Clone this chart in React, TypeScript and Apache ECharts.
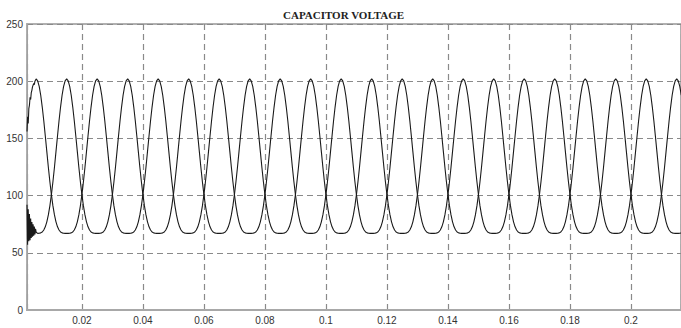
import React, { useEffect, useRef } from 'react';
import * as echarts from 'echarts';

const chartTitle = 'CAPACITOR VOLTAGE';
const xMin = 0.002;
const xMax = 0.2164;
const xTickStep = 0.02;
const yMin = 0;
const yMax = 250;
const yTickStep = 50;

const period = 0.02;
const sampleStep = 0.0005;
// one half-cycle of the capacitor voltage, peak -> trough, read at 0.0005 s steps
const halfCycle = [202, 200.3, 195.5, 187.7, 177.4, 165.4, 152.1, 138.4, 124.8, 112.1, 100.8, 91.0, 83.1, 77.1, 72.7, 69.9, 68.2, 67.4, 67.1, 67.0, 67.0];
const peakTimeA = 0.015;
const peakTimeB = 0.005;
// start-up transients, read at 0.0002 s steps from t = 0.002
const startStep = 0.0002;
const startA = [92, 57, 88, 60, 84, 61, 80, 63, 77, 64, 75, 65, 73, 66, 71, 68];
const startB = [156, 169, 163, 176, 179, 186, 184, 190, 192, 195, 195, 198, 197, 200];
const regularFromA = 0.0055;
const regularFromB = 0.005;

function buildSeries(start: number[], peakT: number, regularFrom: number) {
  const pts: [number, number][] = [];
  start.forEach((v, i) => pts.push([+(xMin + i * startStep).toFixed(5), v]));
  const perCycle = Math.round(period / sampleStep);
  const half = perCycle / 2;
  const n0 = Math.round(regularFrom / sampleStep);
  const n1 = Math.ceil(xMax / sampleStep);
  for (let n = n0; n <= n1; n++) {
    const t = n * sampleStep;
    const ph = (((t - peakT) % period) + period) % period;
    const i = Math.round(ph / sampleStep) % perCycle;
    const v = i <= half ? halfCycle[i] : halfCycle[perCycle - i];
    pts.push([+t.toFixed(5), v]);
  }
  return pts;
}

const seriesA = buildSeries(startA, peakTimeA, regularFromA);
const seriesB = buildSeries(startB, peakTimeB, regularFromB);

export default function App() {
  const ref = useRef<HTMLDivElement>(null);
  useEffect(() => {
    if (!ref.current) return;
    const chart = echarts.init(ref.current, undefined, { renderer: 'svg' });
    const isMultiple = (v: number) => Math.abs(v / xTickStep - Math.round(v / xTickStep)) < 1e-6 && v > 0;
    chart.setOption({
      animation: false,
      backgroundColor: '#fff',
      title: {
        text: chartTitle,
        left: 283,
        top: 9,
        padding: 0,
        textStyle: { fontFamily: 'Liberation Serif', fontWeight: 'bold', fontSize: 11, color: '#222' },
      },
      grid: {
        left: 27,
        right: -2,
        top: 24,
        bottom: 18,
        show: true,
        borderColor: '#b0b0b0',
        borderWidth: 2,
        backgroundColor: 'transparent',
      },
      xAxis: {
        type: 'value',
        min: xMin,
        max: xMax,
        splitNumber: 10,
        axisLine: { show: true, lineStyle: { color: '#a8a8a8', width: 2 } },
        axisTick: { show: false },
        axisLabel: {
          margin: 5,
          fontFamily: 'Liberation Sans',
          fontSize: 10,
          color: '#333',
          showMinLabel: false,
          showMaxLabel: false,
          formatter: (v: number) => (isMultiple(v) ? String(+v.toFixed(2)) : ''),
        },
        splitLine: { show: true, lineStyle: { color: '#8a8a8a', width: 1.2, type: [6, 4] } },
      },
      yAxis: {
        type: 'value',
        min: yMin,
        max: yMax,
        interval: yTickStep,
        axisLine: { show: true, lineStyle: { color: '#a0a0a0', width: 1 } },
        axisTick: { show: false },
        axisLabel: { margin: 4, fontFamily: 'Liberation Sans', fontSize: 10, color: '#333' },
        splitLine: { show: true, lineStyle: { color: '#8a8a8a', width: 1.2, type: [6, 4] } },
      },
      series: [
        {
          type: 'line',
          data: seriesA,
          showSymbol: false,
          lineStyle: { color: '#1a1a1a', width: 1.1 },
          clip: true,
        },
        {
          type: 'line',
          data: seriesB,
          showSymbol: false,
          lineStyle: { color: '#1a1a1a', width: 1.1 },
          clip: true,
        },
      ],
    });
    return () => chart.dispose();
  }, []);
  return <div ref={ref} style={{ position: 'fixed', left: 0, top: 0, width: 681, height: 328 }} />;
}
